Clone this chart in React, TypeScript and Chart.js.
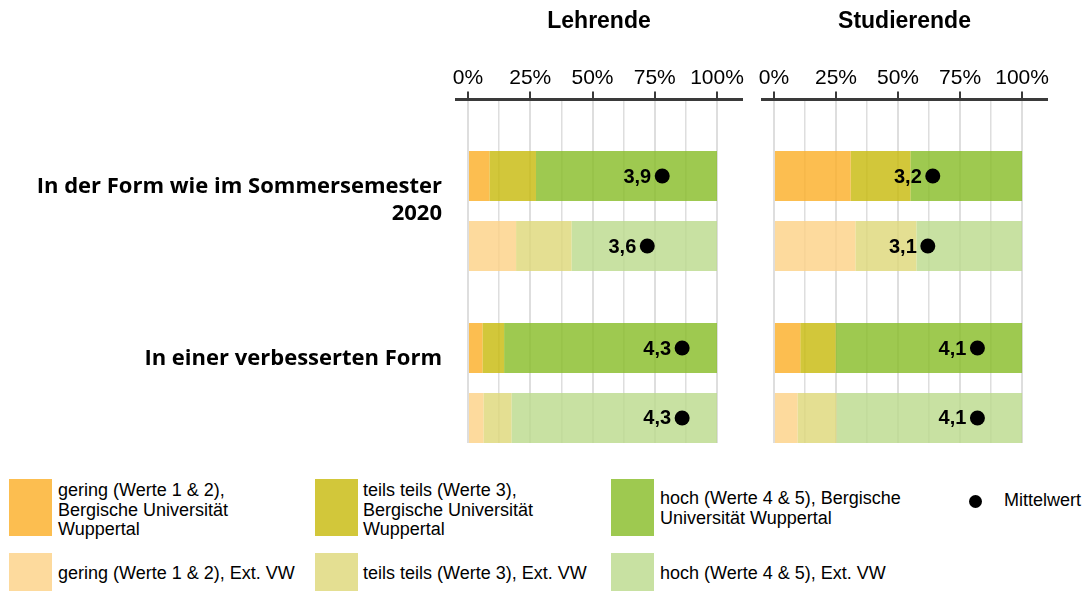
import React, { useEffect, useRef } from 'react';
import { Chart, registerables } from 'chart.js';

Chart.register(...registerables);

// ---------- data ----------
const categoryIndex = [0, 1];
const categoryLines = [['In der Form wie im Sommersemester', '2020'], ['In einer verbesserten Form']];
const xTickValues = [0, 12.5, 25, 37.5, 50, 62.5, 75, 87.5, 100];
const majorTickStep = 25;
const meanScaleMax = 5;

const panelTitles = ['Lehrende', 'Studierende'];

const lehrendeBuwGering = [8.6, 5.8];
const lehrendeBuwTeils = [18.7, 8.7];
const lehrendeBuwHoch = [72.7, 85.5];
const lehrendeExtGering = [19.3, 6.2];
const lehrendeExtTeils = [22.3, 11.3];
const lehrendeExtHoch = [58.4, 82.5];
const lehrendeBuwMean = [3.9, 4.3];
const lehrendeExtMean = [3.6, 4.3];

const studierendeBuwGering = [30.9, 10.6];
const studierendeBuwTeils = [24.1, 14.3];
const studierendeBuwHoch = [45.0, 75.1];
const studierendeExtGering = [32.8, 9.5];
const studierendeExtTeils = [24.6, 15.7];
const studierendeExtHoch = [42.6, 74.8];
const studierendeBuwMean = [3.2, 4.1];
const studierendeExtMean = [3.1, 4.1];

const seriesNames = ['gering (Werte 1 & 2)', 'teils teils (Werte 3)', 'hoch (Werte 4 & 5)'];
const groupNames = ['Bergische Universität Wuppertal', 'Ext. VW'];
const legendLinesBuw = [
  ['gering (Werte 1 & 2),', 'Bergische Universität', 'Wuppertal'],
  ['teils teils (Werte 3),', 'Bergische Universität', 'Wuppertal'],
  ['hoch (Werte 4 & 5), Bergische', 'Universität Wuppertal'],
];
const legendLinesExt = [
  ['gering (Werte 1 & 2), Ext. VW'],
  ['teils teils (Werte 3), Ext. VW'],
  ['hoch (Werte 4 & 5), Ext. VW'],
];
const meanLegendLabel = 'Mittelwert';

// ---------- styles ----------
const FONT = '"Liberation Sans", Arial, Helvetica, sans-serif';
const LABEL_FONT = '"Open Sans", Lato, sans-serif';
const buwColors = ['rgba(251,174,36,0.8)', 'rgba(199,185,9,0.8)', 'rgba(134,188,36,0.8)'];
const extColors = ['rgba(253,209,133,0.8)', 'rgba(221,215,119,0.8)', 'rgba(186,218,139,0.8)'];
const buwSwatch = ['#FCBE50', '#D2C73A', '#9EC950'];
const extSwatch = ['#FDDA9D', '#E4DF92', '#C8E1A2'];

Chart.defaults.font.family = FONT;

const formatMean = (v: number) => v.toFixed(1).replace('.', ',');

const overlayPlugin = {
  id: 'overlay',
  afterDatasetsDraw(chart: any, _args: any, opts: any) {
    const { ctx, chartArea } = chart;
    const xScale = chart.scales.x;
    ctx.save();
    (opts.groups || []).forEach((g: any) => {
      const meta = chart.getDatasetMeta(g.datasetIndex);
      meta.data.forEach((bar: any, i: number) => {
        const x = xScale.getPixelForValue((g.means[i] / meanScaleMax) * 100);
        const y = bar.y;
        ctx.beginPath();
        ctx.arc(x, y, 7.5, 0, Math.PI * 2);
        ctx.fillStyle = '#000';
        ctx.fill();
        ctx.font = `bold 20px ${FONT}`;
        ctx.textAlign = 'right';
        ctx.textBaseline = 'middle';
        ctx.fillText(formatMean(g.means[i]), x - 11, y + 1);
      });
    });
    if (opts.showCategories) {
      const meta = chart.getDatasetMeta(0);
      ctx.font = `bold 22px ${LABEL_FONT}`;
      ctx.textAlign = 'right';
      ctx.textBaseline = 'middle';
      ctx.fillStyle = '#000';
      meta.data.forEach((bar: any, i: number) => {
        categoryLines[i].forEach((line, j) => {
          ctx.fillText(line, chartArea.left - 14, bar.y + 11 + j * 26.5);
        });
      });
    }
    ctx.restore();
  },
};

type PanelProps = {
  title: string;
  buw: number[][];
  ext: number[][];
  buwMean: number[];
  extMean: number[];
  showCategories: boolean;
  left: number;
  width: number;
  padLeft: number;
  padRight: number;
};

function Panel(p: PanelProps) {
  const ref = useRef<HTMLCanvasElement>(null);
  useEffect(() => {
    if (!ref.current) return;
    const datasets: any[] = [];
    p.buw.forEach((vals, k) =>
      datasets.push({
        label: `${seriesNames[k]}, ${groupNames[0]}`,
        data: vals,
        backgroundColor: buwColors[k],
        borderWidth: 0,
        stack: 'buw',
      })
    );
    p.ext.forEach((vals, k) =>
      datasets.push({
        label: `${seriesNames[k]}, ${groupNames[1]}`,
        data: vals,
        backgroundColor: extColors[k],
        borderWidth: 0,
        stack: 'ext',
      })
    );
    const chart = new Chart(ref.current, {
      type: 'bar',
      data: { labels: categoryIndex, datasets },
      plugins: [overlayPlugin as any],
      options: {
        indexAxis: 'y',
        responsive: false,
        animation: false,
        categoryPercentage: 0.814,
        barPercentage: 0.714,
        layout: { padding: { left: p.padLeft, right: p.padRight, top: 0, bottom: 17 } },
        scales: {
          x: {
            type: 'linear',
            position: 'top',
            stacked: true,
            min: -4.82,
            max: 110.04,
            afterBuildTicks: (s: any) => {
              s.ticks = xTickValues.map((v) => ({ value: v }));
            },
            afterFit: (s: any) => {
              s.height = 34;
            },
            grid: {
              color: '#dedede',
              lineWidth: (c: any) => (c.tick && c.tick.value % majorTickStep === 0 ? 2 : 1.5),
              tickLength: 8,
              tickWidth: 2,
              tickColor: (c: any) =>
                c.tick && c.tick.value % majorTickStep === 0 ? '#3a3a3a' : 'rgba(0,0,0,0)',
            },
            border: { display: true, color: '#3a3a3a', width: 3 },
            ticks: {
              autoSkip: false,
              maxRotation: 0,
              minRotation: 0,
              padding: 1,
              color: '#000',
              font: { size: 21, family: FONT },
              callback: (v: any) => (Number(v) % majorTickStep === 0 ? `${v}%` : ''),
            },
          },
          y: {
            type: 'linear',
            display: false,
            reverse: true,
            offset: false,
            min: -0.648,
            max: 1.349,
            afterBuildTicks: (s: any) => {
              s.ticks = categoryIndex.map((v) => ({ value: v }));
            },
          },
        },
        plugins: {
          legend: { display: false },
          tooltip: { enabled: false },
          title: {
            display: true,
            text: p.title,
            fullSize: false,
            color: '#000',
            font: { size: 23, weight: 'bold', family: FONT },
            padding: { top: 8, bottom: 30 },
          },
          overlay: {
            groups: [
              { datasetIndex: 2, means: p.buwMean },
              { datasetIndex: 5, means: p.extMean },
            ],
            showCategories: p.showCategories,
          },
        } as any,
      },
    });
    return () => chart.destroy();
  }, []);
  return (
    <canvas
      ref={ref}
      width={p.width}
      height={460}
      style={{ position: 'absolute', left: p.left, top: 0, width: p.width, height: 460 }}
    />
  );
}

const legendCols = [9, 315, 611];
const legendTextCols = [58, 363, 660];

function Legend() {
  const textStyle: React.CSSProperties = {
    position: 'absolute',
    fontFamily: FONT,
    fontSize: 18,
    lineHeight: '19.5px',
    color: '#000',
    whiteSpace: 'nowrap',
  };
  return (
    <>
      {legendLinesBuw.map((lines, k) => (
        <React.Fragment key={'b' + k}>
          <div style={{ position: 'absolute', left: legendCols[k], top: 479, width: 43, height: 57, background: buwSwatch[k] }} />
          <div style={{ ...textStyle, left: legendTextCols[k], top: lines.length === 3 ? 481.4 : 489.4 }}>
            {lines.map((l, j) => (
              <div key={j}>{l}</div>
            ))}
          </div>
        </React.Fragment>
      ))}
      {legendLinesExt.map((lines, k) => (
        <React.Fragment key={'e' + k}>
          <div style={{ position: 'absolute', left: legendCols[k], top: 553, width: 43, height: 38, background: extSwatch[k] }} />
          <div style={{ ...textStyle, left: legendTextCols[k], top: 564.4 }}>
            {lines.map((l, j) => (
              <div key={j}>{l}</div>
            ))}
          </div>
        </React.Fragment>
      ))}
      <div style={{ position: 'absolute', left: 969, top: 495, width: 13, height: 13, borderRadius: '50%', background: '#000' }} />
      <div style={{ ...textStyle, left: 1004, top: 491.4 }}>{meanLegendLabel}</div>
    </>
  );
}

export default function App() {
  return (
    <div style={{ position: 'absolute', left: 0, top: 0, width: 1086, height: 591, overflow: 'hidden', background: '#fff' }}>
      <Panel
        title={panelTitles[0]}
        buw={[lehrendeBuwGering, lehrendeBuwTeils, lehrendeBuwHoch]}
        ext={[lehrendeExtGering, lehrendeExtTeils, lehrendeExtHoch]}
        buwMean={lehrendeBuwMean}
        extMean={lehrendeExtMean}
        showCategories={true}
        left={0}
        width={750}
        padLeft={456}
        padRight={8}
      />
      <Panel
        title={panelTitles[1]}
        buw={[studierendeBuwGering, studierendeBuwTeils, studierendeBuwHoch]}
        ext={[studierendeExtGering, studierendeExtTeils, studierendeExtHoch]}
        buwMean={studierendeBuwMean}
        extMean={studierendeExtMean}
        showCategories={false}
        left={750}
        width={336}
        padLeft={12}
        padRight={39}
      />
      <Legend />
    </div>
  );
}
